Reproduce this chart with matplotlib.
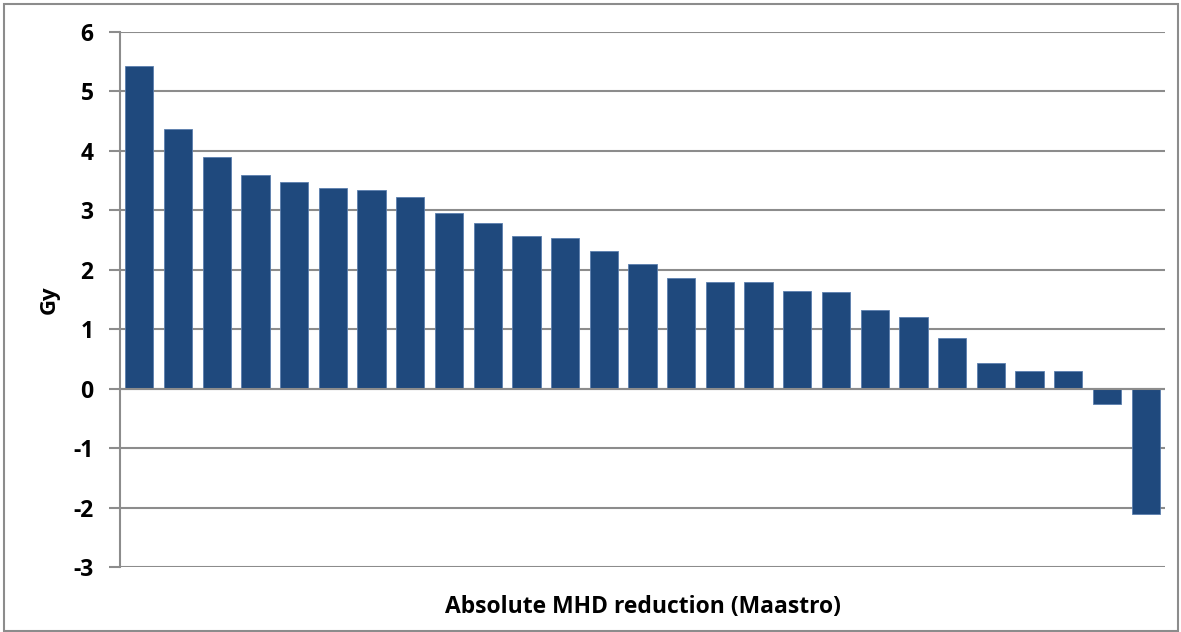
import matplotlib.pyplot as plt
from matplotlib.patches import Rectangle

plt.rcParams['font.family'] = ['Open Sans', 'DejaVu Sans']

# MHD reduction per patient (Gy), sorted
patients = list(range(1, 28))
values = [5.43, 4.36, 3.90, 3.60, 3.47, 3.38, 3.34, 3.23, 2.96, 2.78,
          2.56, 2.54, 2.32, 2.10, 1.87, 1.80, 1.80, 1.65, 1.63, 1.32,
          1.21, 0.85, 0.43, 0.30, 0.29, -0.26, -2.10]
yticks = [-3, -2, -1, 0, 1, 2, 3, 4, 5, 6]

fig = plt.figure(figsize=(11.81, 6.32), dpi=100)
ax = fig.add_axes([120 / 1181, 1 - 567 / 632, 1045 / 1181, 535 / 632])

ax.bar(patients, values, width=0.73, color='#1f497d', edgecolor='#5b7fae',
       linewidth=0.6, zorder=3)

ax.set_xlim(0.5, len(patients) + 0.5)
ax.set_ylim(-3, 6)
ax.set_yticks(yticks)
ax.set_yticklabels([str(t) for t in yticks], fontsize=16.5, fontweight='bold')
ax.set_xticks([])
ax.grid(axis='y', color='#8c8c8c', linewidth=1.5, zorder=0)
ax.axhline(0, color='#8c8c8c', linewidth=1.5, zorder=4)
ax.tick_params(axis='y', length=8, width=1.5, color='#8c8c8c', pad=11)

for side in ['top', 'right', 'bottom']:
    ax.spines[side].set_visible(False)
ax.spines['left'].set_color('#8c8c8c')
ax.spines['left'].set_linewidth(1.5)

ax.set_ylabel('Gy', fontsize=16, fontweight='bold', labelpad=10)
ax.set_xlabel('Absolute MHD reduction (Maastro)', fontsize=16.5,
              fontweight='bold', labelpad=20)

# outer frame of the chart
fig.patches.append(Rectangle((4 / 1181, 0.002), 1174 / 1181, 1 - 4 / 632 - 0.002,
                             transform=fig.transFigure, fill=False,
                             edgecolor='#8c8c8c', linewidth=1.5))

fig.savefig('out.png', dpi=100)
